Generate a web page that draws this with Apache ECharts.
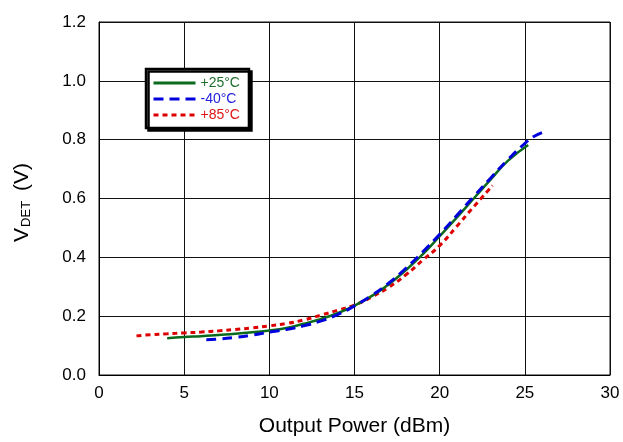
<!DOCTYPE html>
<html>
<head>
<meta charset="utf-8">
<script src="https://cdn.jsdelivr.net/npm/echarts@6/dist/echarts.min.js"></script>
<style>
html,body{margin:0;padding:0;background:#fff;}
#chart{width:623px;height:442px;}
</style>
</head>
<body>
<div id="chart"></div>
<script>
// Data (x: Output Power dBm, y: VDET V)
var seriesNames = ['+25°C', '-40°C', '+85°C'];
var seriesColors = ['#0b6b1c', '#0000dd', '#dd0000'];
var legendTextColors = ['#1f6e2c', '#2222dd', '#dd1515'];

var data25 = [
  [4.0,0.125],[5,0.129],[6,0.132],[7,0.136],[8,0.140],[9,0.145],[10,0.151],
  [11,0.160],[12,0.174],[13,0.190],[14,0.210],[15,0.236],[16,0.268],[17,0.308],
  [18,0.356],[19,0.410],[20,0.472],[21,0.535],[22,0.600],[23,0.665],[24,0.728],[25.2,0.782]
];
var dataM40 = [
  [6.3,0.120],[7,0.122],[8,0.128],[9,0.136],[10,0.146],[11,0.155],[12,0.167],
  [13,0.183],[14,0.205],[15,0.235],[16,0.270],[17,0.312],[18,0.362],[19,0.418],
  [20,0.478],[21,0.542],[22,0.607],[23,0.670],[24,0.732],[25,0.787],[25.5,0.810],[26.2,0.828]
];
var data85 = [
  [2.2,0.133],[3,0.137],[4,0.140],[5,0.143],[6,0.146],[7,0.150],[8,0.155],
  [9,0.160],[10,0.167],[11,0.175],[12,0.187],[13,0.203],[14,0.220],[15,0.238],
  [16,0.265],[17,0.298],[18,0.340],[19,0.390],[20,0.440],[21,0.505],[22,0.572],[23.1,0.644]
];

var xTicks = [0,5,10,15,20,25,30];
var yTicks = [0.0,0.2,0.4,0.6,0.8,1.0,1.2];

var chart = echarts.init(document.getElementById('chart'));
var font = 'Liberation Sans, Arial, sans-serif';
chart.setOption({
  animation: false,
  backgroundColor: '#fff',
  grid: {left: 99, right: 13, top: 22, bottom: 63, show: true, borderColor: '#111', borderWidth: 1},
  legend: {
    left: 146, top: 69,
    orient: 'vertical',
    itemWidth: 42, itemHeight: 14, itemGap: 2,
    padding: [7, 9, 6, 6],
    backgroundColor: '#fff',
    borderColor: '#000', borderWidth: 2.5,
    shadowColor: '#000', shadowOffsetX: 2.5, shadowOffsetY: 2.5, shadowBlur: 0,
    itemStyle: {opacity: 0},
    lineStyle: {width: 3},
    textStyle: {fontFamily: font, fontSize: 14},
    data: seriesNames.map(function(n, i){ return {name: n, textStyle: {color: legendTextColors[i]}}; })
  },
  xAxis: {
    type: 'value', min: 0, max: 30, interval: 5,
    name: 'Output Power (dBm)', nameLocation: 'middle', nameGap: 41,
    nameTextStyle: {fontFamily: font, fontSize: 21, color: '#000'},
    axisLine: {show: true, lineStyle: {color: '#000', width: 1}},
    axisTick: {show: false},
    axisLabel: {fontFamily: font, fontSize: 17, color: '#000', margin: 10,
      formatter: function(v){ return xTicks.indexOf(v) >= 0 ? String(v) : ''; }},
    splitLine: {show: true, lineStyle: {color: '#111', width: 1}}
  },
  yAxis: {
    type: 'value', min: 0, max: 1.2, interval: 0.2,
    name: '{v|V}{s|DET}{v| (V)}', nameLocation: 'middle', nameGap: 66, nameRotate: 90,
    nameTextStyle: {padding: [0, 8, 0, 0], rich: {
      v: {fontFamily: font, fontSize: 21, color: '#000'},
      s: {fontFamily: font, fontSize: 13, color: '#000', verticalAlign: 'bottom', padding: [9,4,0,1]}
    }},
    axisLine: {show: true, lineStyle: {color: '#000', width: 1}},
    axisTick: {show: false},
    axisLabel: {fontFamily: font, fontSize: 17, color: '#000', margin: 13,
      formatter: function(v){ return v.toFixed(1); }},
    splitLine: {show: true, lineStyle: {color: '#111', width: 1}}
  },
  series: [
    {name: seriesNames[0], type: 'line', data: data25, symbol: 'none', smooth: true, z: 3,
     color: seriesColors[0], lineStyle: {color: seriesColors[0], width: 2.5, type: 'solid'}},
    {name: seriesNames[1], type: 'line', data: dataM40, symbol: 'none', smooth: true, z: 4,
     color: seriesColors[1], lineStyle: {color: seriesColors[1], width: 3, type: [10, 6]}},
    {name: seriesNames[2], type: 'line', data: data85, symbol: 'none', smooth: true, z: 2,
     color: seriesColors[2], lineStyle: {color: seriesColors[2], width: 3, type: [5, 4]}}
  ]
});
</script>
</body>
</html>
